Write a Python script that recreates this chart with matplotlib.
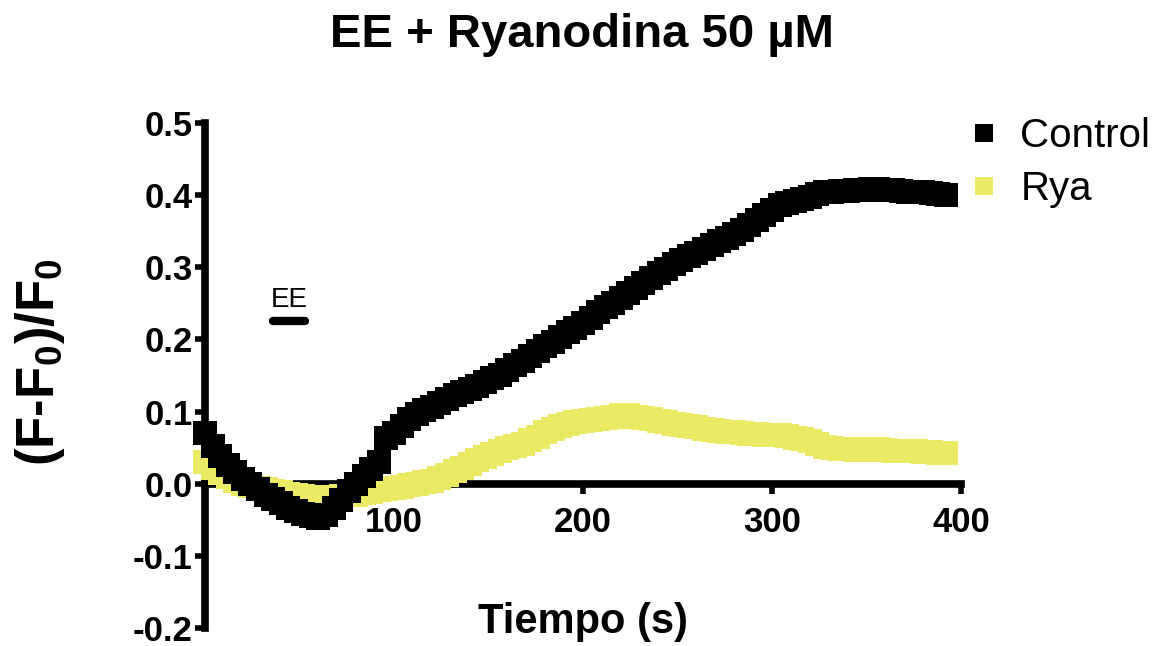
import matplotlib
matplotlib.use('Agg')
import numpy as np
import matplotlib.pyplot as plt

plt.rcParams['font.family'] = ['Liberation Sans', 'DejaVu Sans']
plt.rcParams['mathtext.fontset'] = 'custom'
plt.rcParams['mathtext.rm'] = 'Liberation Sans'
plt.rcParams['mathtext.bf'] = 'Liberation Sans:bold'
plt.rcParams['mathtext.default'] = 'bf'

# sampling times (s), one reading every 4 s
tiempo = np.arange(0, 396, 4)

control = [0.070, 0.052, 0.038, 0.026, 0.016, 0.007, -0.001, -0.008, -0.015, -0.021,
           -0.027, -0.033, -0.038, -0.042, -0.045, -0.047, -0.043, -0.033, -0.022, -0.010,
           0.000, 0.010, 0.020, 0.030, 0.064, 0.070, 0.080, 0.090, 0.096, 0.102,
           0.107, 0.112, 0.118, 0.123, 0.127, 0.131, 0.136, 0.141, 0.146, 0.151,
           0.157, 0.164, 0.170, 0.177, 0.184, 0.191, 0.197, 0.204, 0.210, 0.216,
           0.223, 0.230, 0.238, 0.245, 0.251, 0.258, 0.265, 0.271, 0.278, 0.285,
           0.292, 0.298, 0.304, 0.310, 0.315, 0.320, 0.326, 0.331, 0.336, 0.340,
           0.346, 0.352, 0.358, 0.366, 0.373, 0.380, 0.386, 0.389, 0.392, 0.395,
           0.398, 0.401, 0.404, 0.405, 0.406, 0.406, 0.407, 0.407, 0.408, 0.408,
           0.407, 0.407, 0.406, 0.405, 0.405, 0.404, 0.403, 0.402, 0.400]

rya = [0.030, 0.022, 0.015, 0.009, 0.004, 0.000, -0.003, -0.006, -0.008, -0.010,
       -0.012, -0.014, -0.016, -0.017, -0.018, -0.019, -0.019, -0.018, -0.017, -0.016,
       -0.015, -0.013, -0.011, -0.009, -0.008, -0.006, -0.004, -0.002, 0.000, 0.002,
       0.004, 0.008, 0.012, 0.017, 0.022, 0.027, 0.033, 0.037, 0.041, 0.045,
       0.049, 0.052, 0.055, 0.060, 0.065, 0.071, 0.076, 0.080, 0.083, 0.085,
       0.087, 0.088, 0.089, 0.091, 0.093, 0.095, 0.095, 0.093, 0.091, 0.089,
       0.087, 0.085, 0.083, 0.082, 0.080, 0.078, 0.076, 0.074, 0.073, 0.072,
       0.071, 0.070, 0.069, 0.069, 0.068, 0.068, 0.067, 0.066, 0.064, 0.062,
       0.059, 0.055, 0.051, 0.049, 0.048, 0.048, 0.047, 0.047, 0.048, 0.048,
       0.047, 0.046, 0.046, 0.045, 0.045, 0.044, 0.044, 0.043, 0.043]

yticks = [-0.2, -0.1, 0.0, 0.1, 0.2, 0.3, 0.4, 0.5]
ytick_labels = ['-0.2', '-0.1', '0.0', '0.1', '0.2', '0.3', '0.4', '0.5']
xticks = [100, 200, 300, 400]
xtick_labels = ['100', '200', '300', '400']
ee_bar = [36, 53]   # stimulus (EE) period, s
ee_level = 0.225

amarillo = '#EAEA64'

fig = plt.figure(figsize=(11.63, 6.46), dpi=100)
ax = fig.add_axes([0.1763, 0.0279, 0.650, 0.7817])

ax.plot(tiempo, rya, 's', color=amarillo, ms=17, mew=0, label='Rya',
        zorder=3, clip_on=False)
ax.plot(tiempo, control, 's', color='black', ms=17, mew=0, label='Control',
        zorder=4, clip_on=False)

ax.set_xlim(0, 400)
ax.set_ylim(-0.2, 0.5)

ax.spines['top'].set_visible(False)
ax.spines['right'].set_visible(False)
ax.spines['bottom'].set_position(('data', 0))
for s in ['left', 'bottom']:
    ax.spines[s].set_linewidth(5.5)

ax.set_yticks(yticks)
ax.set_yticklabels(ytick_labels)
ax.set_xticks(xticks)
ax.set_xticklabels(xtick_labels)
ax.tick_params(axis='both', direction='out', length=7, width=4, labelsize=25)
ax.tick_params(axis='y', pad=2)
ax.tick_params(axis='x', pad=9)
for lab in ax.get_xticklabels() + ax.get_yticklabels():
    lab.set_fontweight('bold')

# EE stimulus bar
ax.plot(ee_bar, [ee_level, ee_level], color='black', lw=6, solid_capstyle='round')
ax.text(np.mean(ee_bar), ee_level + 0.012, 'EE', ha='center', va='bottom', fontsize=20)

handles, labels = ax.get_legend_handles_labels()
leg = ax.legend(handles[::-1], labels[::-1], loc='upper left',
                bbox_to_anchor=(0.8306, 0.819), bbox_transform=fig.transFigure,
                frameon=False, fontsize=29, handlelength=0.9, handletextpad=0.45,
                labelspacing=0.37, borderpad=0, borderaxespad=0, markerscale=0.8)

fig.text(0.5, 0.946, 'EE + Ryanodina 50 µM', ha='center', va='center',
         fontsize=34, fontweight='bold')
fig.text(0.5012, 1 - 622 / 646, 'Tiempo (s)', ha='center', va='center',
         fontsize=30, fontweight='bold')
fig.text(40 / 1163, 1 - 362 / 646, '(F-F$_0$)/F$_0$', ha='center', va='center',
         rotation=90, fontsize=38, fontweight='bold')

fig.savefig('out.png', dpi=100)
